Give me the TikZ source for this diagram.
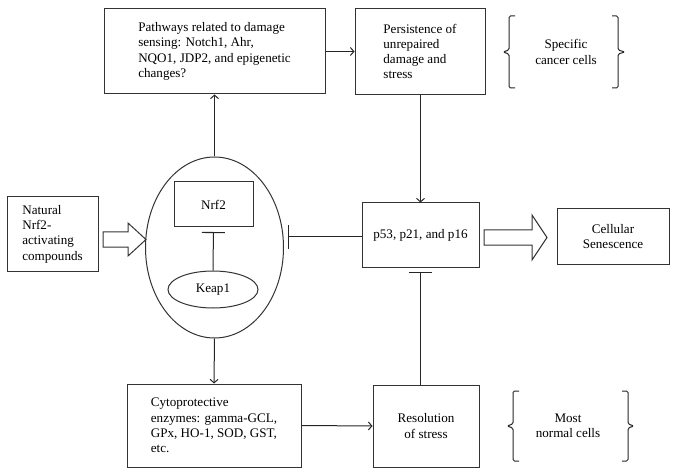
\documentclass[tikz,border=0pt]{standalone}
\usepackage{fontspec}
\setmainfont{Liberation Serif}
\usetikzlibrary{arrows.meta,shapes.geometric}
\begin{document}
\begin{tikzpicture}[x=1pt,y=-1pt,
  every node/.style={font=\fontsize{13.1}{15.3}\selectfont, text=black},
  box/.style={draw=black!80, line width=1pt, rectangle, inner sep=0pt, align=left},
  cbox/.style={box, align=center},
  ln/.style={draw=black!85, line width=1pt},
  arr/.style={ln, -{Straight Barb[length=3.5pt,width=8pt,line width=1pt]}},
  inh/.style={ln, -{Bar[width=23pt,line width=1.1pt]}, shorten >=4.5pt},
  brk/.style={ln, rounded corners=1.5pt},
  blockarrow/.style={draw=black!80, line width=1pt, fill=white}]
\useasboundingbox (0,0) rectangle (678,476);

% nodes
\node[box, minimum width=221pt, minimum height=85pt] (path) at (214.5,51.5)
  {Pathways related to damage\\sensing: Notch1, Ahr,\\NQO1, JDP2, and epigenetic\\changes?};
\node[box, minimum width=130pt, minimum height=86pt] (pers) at (420,51.5)
  {Persistence of\\unrepaired\\damage and\\stress};
\node[align=center, inner sep=0pt] (spec) at (566,52) {Specific\\cancer cells};

\node[box, minimum width=91pt, minimum height=74pt] (nat) at (52.5,234)
  {Natural\\Nrf2-\\activating\\compounds};
\node[draw=black!80, line width=1pt, ellipse, inner sep=0pt, minimum width=138pt, minimum height=181pt] (big) at (214.5,247.5) {};
\node[cbox, minimum width=79pt, minimum height=45pt] (nrf2) at (213.5,204.5) {Nrf2};
\node[draw=black!80, line width=1pt, ellipse, inner sep=0pt, minimum width=90pt, minimum height=37pt] (keap) at (213,289.5) {Keap1};

\node[cbox, minimum width=117pt, minimum height=64pt] (p53) at (420.5,235) {p53, p21, and p16};
\node[cbox, minimum width=112pt, minimum height=55pt] (sen) at (613,236.5) {Cellular\\Senescence};

\node[box, minimum width=174pt, minimum height=83pt] (cyto) at (214,425.5)
  {Cytoprotective\\enzymes: gamma-GCL,\\GPx, HO-1, SOD, GST,\\etc.};
\node[cbox, minimum width=106pt, minimum height=82pt] (res) at (426,426) {Resolution\\of stress};
\node[align=center, inner sep=0pt] (norm) at (568,426) {Most\\normal cells};

% connectors
\draw[arr] (big.north) -- (path.south);
\draw[arr] (path.east) -- (pers.west);
\draw[arr] (p53.north |- pers.south) -- (p53.north);
\draw[arr] (big.south) -- (cyto.north);
\draw[arr] (cyto.east) -- (res.west);
\draw[inh] (keap.north) -- (nrf2.south);
\coordinate (bigR) at (283.6,237);
\draw[inh, shorten >=0pt] (p53.west |- bigR) -- ([xshift=4.5pt]bigR);
\draw[inh] (p53.south |- res.north) -- (p53.south);

% block arrows
\draw[blockarrow] (103,232) -- (128,232) -- (128,223) -- (146,239.5) -- (128,256) -- (128,247) -- (103,247) -- cycle;
\draw[blockarrow] (484,230) -- (532,230) -- (532,215) -- (547,237.5) -- (532,260) -- (532,245) -- (484,245) -- cycle;

% brackets
\draw[brk] (515,16) -- (509,16) -- (509,50) -- (503,52) -- (509,54) -- (509,88) -- (515,88);
\draw[brk] (612,16) -- (618,16) -- (618,50) -- (625,52) -- (618,54) -- (618,88) -- (612,88);
\draw[brk] (519,391) -- (513,391) -- (513,424) -- (507,426) -- (513,428) -- (513,461) -- (519,461);
\draw[brk] (622,391) -- (628,391) -- (628,424) -- (634,426) -- (628,428) -- (628,461) -- (622,461);
\end{tikzpicture}
\end{document}
